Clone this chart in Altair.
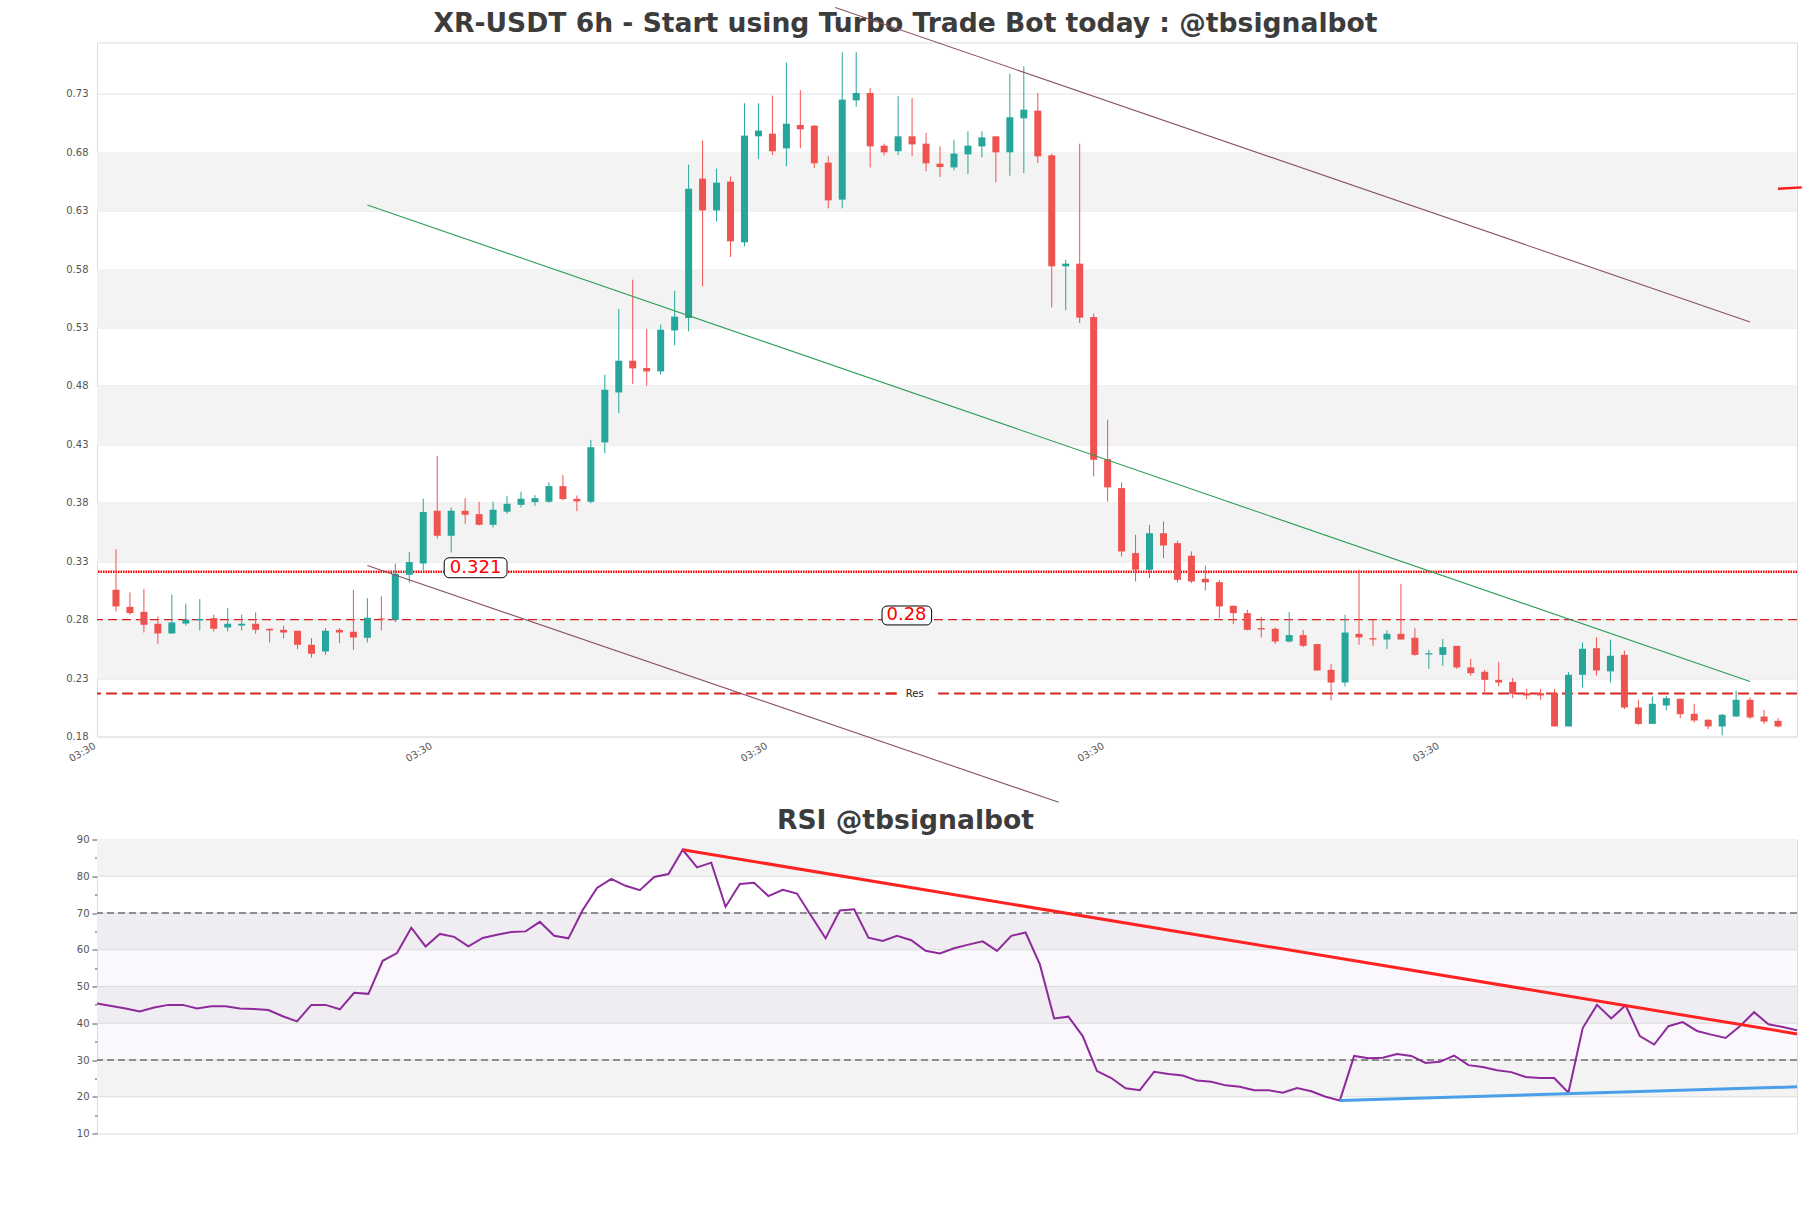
import altair as alt
import pandas as pd

# ---------------- data ----------------
opens = [0.3056, 0.2910, 0.2867, 0.2765, 0.2682, 0.2767, 0.2793, 0.2813, 0.2733, 0.2750,
         0.2765, 0.2722, 0.2713, 0.2705, 0.2585, 0.2528, 0.2713, 0.2696, 0.2645, 0.2810,
         0.2799, 0.3184, 0.3281, 0.3732, 0.3518, 0.3732, 0.3703, 0.3612, 0.3724, 0.3783,
         0.3806, 0.3809, 0.3943, 0.3834, 0.3809, 0.4317, 0.4745, 0.5016, 0.4954, 0.4925,
         0.5276, 0.5382, 0.6575, 0.6303, 0.6549, 0.6030, 0.6937, 0.6960, 0.6834, 0.7034,
         0.7028, 0.6712, 0.6395, 0.7245, 0.7308, 0.6857, 0.6809, 0.6937, 0.6874, 0.6703,
         0.6671, 0.6783, 0.6851, 0.6937, 0.6800, 0.7091, 0.7157, 0.6774, 0.5824, 0.5847,
         0.5390, 0.4174, 0.3926, 0.3370, 0.3227, 0.3540, 0.3455, 0.3347, 0.3150, 0.3121,
         0.2919, 0.2856, 0.2728, 0.2722, 0.2613, 0.2668, 0.2591, 0.2371, 0.2262, 0.2679,
         0.2642, 0.2630, 0.2679, 0.2645, 0.2502, 0.2499, 0.2576, 0.2391, 0.2354, 0.2285,
         0.2268, 0.2171, 0.2171, 0.2171, 0.1886, 0.2328, 0.2556, 0.2357, 0.2499, 0.2048,
         0.1908, 0.2065, 0.2123, 0.1994, 0.1943, 0.1886, 0.1971, 0.2114, 0.1971, 0.1934]
highs = [0.3404, 0.3033, 0.3064, 0.2827, 0.3013, 0.2936, 0.2976, 0.2842, 0.2899, 0.2842,
         0.2862, 0.2722, 0.2747, 0.2705, 0.2642, 0.2728, 0.2728, 0.3056, 0.2984, 0.2999,
         0.3280, 0.3378, 0.3835, 0.4203, 0.3760, 0.3840, 0.3809, 0.3809, 0.3860, 0.3895,
         0.3866, 0.3975, 0.4038, 0.3863, 0.4339, 0.4896, 0.5459, 0.5710, 0.5288, 0.5325,
         0.5616, 0.6694, 0.6900, 0.6660, 0.6592, 0.7220, 0.7220, 0.7285, 0.7568, 0.7331,
         0.7034, 0.6766, 0.7656, 0.7659, 0.7351, 0.6874, 0.7280, 0.7265, 0.6966, 0.6851,
         0.6908, 0.6980, 0.6980, 0.6937, 0.7473, 0.7536, 0.7308, 0.6789, 0.5881, 0.6874,
         0.5419, 0.4512, 0.3975, 0.3527, 0.3612, 0.3641, 0.3475, 0.3384, 0.3261, 0.3141,
         0.2919, 0.2884, 0.2822, 0.2733, 0.2865, 0.2713, 0.2591, 0.2419, 0.2842, 0.3227,
         0.2799, 0.2708, 0.3107, 0.2728, 0.2542, 0.2636, 0.2576, 0.2465, 0.2371, 0.2439,
         0.2302, 0.2208, 0.2208, 0.2208, 0.2351, 0.2605, 0.2650, 0.2628, 0.2536, 0.2114,
         0.2142, 0.2148, 0.2123, 0.2080, 0.1948, 0.1994, 0.2194, 0.2134, 0.2028, 0.1957]
lows = [0.2870, 0.2842, 0.2690, 0.2593, 0.2679, 0.2750, 0.2708, 0.2699, 0.2699, 0.2708,
        0.2679, 0.2605, 0.2639, 0.2548, 0.2476, 0.2499, 0.2599, 0.2542, 0.2605, 0.2708,
        0.2779, 0.3118, 0.3221, 0.3495, 0.3375, 0.3621, 0.3607, 0.3589, 0.3706, 0.3760,
        0.3775, 0.3800, 0.3820, 0.3729, 0.3795, 0.4226, 0.4568, 0.4816, 0.4802, 0.4896,
        0.5148, 0.5268, 0.5653, 0.6209, 0.5904, 0.5995, 0.6743, 0.6777, 0.6680, 0.6834,
        0.6666, 0.6320, 0.6320, 0.7189, 0.6671, 0.6774, 0.6777, 0.6766, 0.6637, 0.6589,
        0.6646, 0.6614, 0.6757, 0.6543, 0.6600, 0.6623, 0.6709, 0.5473, 0.5447, 0.5339,
        0.4026, 0.3812, 0.3341, 0.3127, 0.3156, 0.3327, 0.3120, 0.3113, 0.3050, 0.2813,
        0.2762, 0.2708, 0.2648, 0.2593, 0.2605, 0.2565, 0.2365, 0.2108, 0.2228, 0.2585,
        0.2576, 0.2548, 0.2630, 0.2491, 0.2379, 0.2405, 0.2379, 0.2322, 0.2165, 0.2228,
        0.2128, 0.2120, 0.2114, 0.1886, 0.1886, 0.2220, 0.2322, 0.2262, 0.2034, 0.1897,
        0.1908, 0.2023, 0.1957, 0.1920, 0.1863, 0.1809, 0.1971, 0.1951, 0.1906, 0.1877]
closes = [0.2913, 0.2856, 0.2756, 0.2682, 0.2776, 0.2799, 0.2807, 0.2722, 0.2765, 0.2765,
          0.2713, 0.2708, 0.2690, 0.2585, 0.2508, 0.2705, 0.2690, 0.2648, 0.2816, 0.2802,
          0.3193, 0.3293, 0.3721, 0.3518, 0.3732, 0.3698, 0.3612, 0.3741, 0.3792, 0.3835,
          0.3840, 0.3943, 0.3832, 0.3812, 0.4276, 0.4768, 0.5016, 0.4951, 0.4925, 0.5282,
          0.5394, 0.6489, 0.6303, 0.6540, 0.6038, 0.6943, 0.6986, 0.6809, 0.7045, 0.6997,
          0.6706, 0.6389, 0.7251, 0.7308, 0.6851, 0.6800, 0.6937, 0.6868, 0.6706, 0.6674,
          0.6789, 0.6857, 0.6928, 0.6800, 0.7100, 0.7165, 0.6766, 0.5824, 0.5847, 0.5385,
          0.4168, 0.3932, 0.3384, 0.3227, 0.3540, 0.3435, 0.3141, 0.3127, 0.3119, 0.2913,
          0.2856, 0.2713, 0.2716, 0.2613, 0.2668, 0.2576, 0.2365, 0.2262, 0.2690, 0.2648,
          0.2630, 0.2679, 0.2630, 0.2499, 0.2513, 0.2565, 0.2391, 0.2342, 0.2285, 0.2262,
          0.2165, 0.2151, 0.2151, 0.1886, 0.2328, 0.2551, 0.2365, 0.2491, 0.2048, 0.1908,
          0.2080, 0.2128, 0.1991, 0.1937, 0.1886, 0.1986, 0.2114, 0.1963, 0.1928, 0.1886]

rsi_values = [45.4, 44.7, 44.0, 43.2, 44.3, 45.0, 45.0, 44.0, 44.6, 44.6,
              44.0, 43.9, 43.6, 41.9, 40.5, 45.0, 45.0, 43.8, 48.3, 48.0,
              57.0, 59.1, 66.0, 60.9, 64.3, 63.5, 60.9, 63.2, 64.1, 64.8,
              65.0, 67.6, 63.8, 63.1, 70.8, 76.8, 79.3, 77.4, 76.2, 79.8,
              80.6, 87.2, 82.4, 83.7, 71.7, 77.9, 78.2, 74.6, 76.3, 75.3,
              69.2, 63.1, 70.7, 71.0, 63.3, 62.4, 63.8, 62.6, 59.7, 59.0,
              60.4, 61.4, 62.3, 59.7, 63.8, 64.7, 56.0, 41.3, 41.8, 36.5,
              27.0, 25.1, 22.3, 21.8, 26.8, 26.2, 25.8, 24.4, 24.1, 23.1,
              22.7, 21.8, 21.8, 21.1, 22.4, 21.5, 20.0, 19.0, 31.1, 30.5,
              30.6, 31.6, 31.1, 29.2, 29.5, 31.2, 28.6, 28.1, 27.2, 26.7,
              25.4, 25.1, 25.1, 21.1, 38.7, 45.0, 41.3, 44.9, 36.5, 34.2,
              39.2, 40.3, 37.9, 36.9, 36.0, 39.2, 43.0, 39.7, 39.0, 38.1]

price_ticks = [0.18, 0.23, 0.28, 0.33, 0.38, 0.43, 0.48, 0.53, 0.58, 0.63, 0.68, 0.73]
band_lo = [0.23, 0.33, 0.43, 0.53, 0.63]
band_hi = [0.28, 0.38, 0.48, 0.58, 0.68]
xtick_pos = [-1, 23.1, 47.1, 71.2, 95.2]
xtick_text = "03:30"

main_title = "XR-USDT 6h - Start using Turbo Trade Bot today : @tbsignalbot"
rsi_title = "RSI @tbsignalbot"

# price levels
level_support = 0.321
level_mid = 0.28
level_res = 0.2168

# trend lines (start index, start price, end index, end price)
trend_x1 = [18.0, 51.5, 18.0, 119.0]
trend_y1 = [0.635, 0.804, 0.3264, 0.6489]
trend_x2 = [117.0, 117.0, 67.5, 120.7]
trend_y2 = [0.227, 0.5348, 0.1237, 0.6500]
trend_col = ["#2e9e5b", "#8a5468", "#8a5468", "#ff1a1a"]
trend_w = [1.1, 1.1, 1.1, 2.5]

# annotation boxes
box_x1 = [23.5, 54.85]
box_x2 = [28.0, 58.4]
box_y1 = [0.3159, 0.2755]
box_y2 = [0.3330, 0.2917]
box_tx = [25.75, 56.6]
box_ty = [0.3245, 0.2836]
box_txt = ["0.321", "0.28"]

# RSI
rsi_band_lo = [80, 60, 40, 20]
rsi_band_hi = [90, 70, 50, 30]
rsi_grid = [20, 30, 40, 50, 60, 70, 80]
rsi_levels = [70, 30]
rsi_tr_x1 = [41, 87]
rsi_tr_y1 = [87.2, 19.0]
rsi_tr_x2 = [119, 119]
rsi_tr_y2 = [37.1, 22.7]
rsi_tr_col = ["#ff2222", "#4a9fe8"]

# ---------------- chart ----------------
W = 1700
H_MAIN = 694
H_RSI = 294
FONT = "DejaVu Sans"
TITLE_X = 808.5      # figure centre relative to plot left
TITLE_Y = -11        # baseline above plot top

n = len(opens)
candles = pd.DataFrame({"i": list(range(n)), "o": opens, "h": highs, "l": lows, "c": closes})
candles["col"] = ["#26a69a" if c >= o else "#ef5350" for o, c in zip(opens, closes)]

xs = alt.Scale(domain=[-1, 120], nice=False, zero=False)
ys = alt.Scale(domain=[0.18, 0.774], nice=False, zero=False)
x_axis = alt.Axis(values=xtick_pos, labelExpr="'" + xtick_text + "'", labelAngle=330,
                  labelAlign="right", labelBaseline="top", ticks=False, domain=False,
                  grid=False, labelPadding=4, labelOffset=-10, title=None, labelFontSize=10,
                  labelColor="#555555", labelFont=FONT, labelBound=False,
                  labelOverlap=False)
y_axis = alt.Axis(values=price_ticks, format=".2f", ticks=False, domain=False, grid=True,
                  gridColor="#e2e2e2", gridWidth=1, labelPadding=9, title=None,
                  labelFontSize=10, labelColor="#555555", labelFont=FONT)


def X(f):
    return alt.X(f, type="quantitative", scale=xs, axis=x_axis)


def Y(f):
    return alt.Y(f, type="quantitative", scale=ys, axis=y_axis)


bands = alt.Chart(pd.DataFrame({"lo": band_lo, "hi": band_hi})).mark_rect(color="#f3f3f3").encode(
    x=alt.value(0), x2=alt.value(W), y=Y("lo"), y2="hi")

wicks = alt.Chart(candles).mark_rule(strokeWidth=1).encode(
    x=X("i"), y=Y("l"), y2="h", color=alt.Color("col:N", scale=None))
bodies = alt.Chart(candles).mark_bar(size=7).encode(
    x=X("i"), y=Y("o"), y2="c", color=alt.Color("col:N", scale=None))

sup = alt.Chart(pd.DataFrame({"v": [level_support]})).mark_rule(
    color="#ff0000", strokeWidth=2.5, strokeDash=[1.5, 1]).encode(y=Y("v"))
mid = alt.Chart(pd.DataFrame({"v": [level_mid]})).mark_rule(
    color="#d42020", strokeWidth=1.3, strokeDash=[9, 5]).encode(y=Y("v"))
res = alt.Chart(pd.DataFrame({"v": [level_res]})).mark_rule(
    color="#d42a2a", strokeWidth=2.2, strokeDash=[11, 5]).encode(y=Y("v"))

trend_df = pd.DataFrame({"x1": trend_x1, "y1": trend_y1, "x2": trend_x2, "y2": trend_y2,
                         "col": trend_col, "w": trend_w})
trends = alt.Chart(trend_df).mark_rule(clip=False).encode(
    x=X("x1"), y=Y("y1"), x2="x2", y2="y2",
    color=alt.Color("col:N", scale=None),
    strokeWidth=alt.StrokeWidth("w:Q", scale=None))

box_df = pd.DataFrame({"x1": box_x1, "x2": box_x2, "y1": box_y1, "y2": box_y2,
                       "tx": box_tx, "ty": box_ty, "txt": box_txt})
boxes = alt.Chart(box_df).mark_rect(fill="white", stroke="black", strokeWidth=1,
                                    cornerRadius=5).encode(
    x=X("x1"), x2="x2", y=Y("y1"), y2="y2")
box_text = alt.Chart(box_df).mark_text(color="#ff0000", fontSize=18, font=FONT,
                                       align="center", baseline="middle").encode(
    x=X("tx"), y=Y("ty"), text="txt:N")

leg_df = pd.DataFrame({"x1": [54.7], "x2": [58.6], "y1": [level_res - 0.006],
                       "y2": [level_res + 0.006], "lx1": [55.1], "lx2": [55.9],
                       "ly": [level_res], "tx": [56.55], "txt": ["Res"]})
leg_bg = alt.Chart(leg_df).mark_rect(fill="white").encode(
    x=X("x1"), x2="x2", y=Y("y1"), y2="y2")
leg_line = alt.Chart(leg_df).mark_rule(color="#d42a2a", strokeWidth=2.5).encode(
    x=X("lx1"), x2="lx2", y=Y("ly"))
leg_txt = alt.Chart(leg_df).mark_text(fontSize=10, font=FONT, color="#222222",
                                      align="left", baseline="middle").encode(
    x=X("tx"), y=Y("ly"), text="txt:N")

main_t = alt.Chart(pd.DataFrame({"t": [main_title]})).mark_text(
    fontSize=26.6, fontWeight="bold", color="#3c3c3c", font=FONT,
    align="center", baseline="alphabetic").encode(
    x=alt.value(TITLE_X), y=alt.value(TITLE_Y), text="t:N")

main = alt.layer(bands, sup, mid, res, wicks, bodies, main_t, trends, boxes, box_text,
                 leg_bg, leg_line, leg_txt).properties(width=W, height=H_MAIN)

# RSI panel
rx = alt.Scale(domain=[0, 119], nice=False, zero=False)
ry = alt.Scale(domain=[10, 90], nice=False, zero=False)
r_axis = alt.Axis(values=list(range(10, 91, 5)),
                  labelExpr="datum.value % 10 === 0 ? datum.label : ''",
                  tickSize={"condition": {"test": "datum.value % 10 === 0", "value": 5},
                            "value": 2.5},
                  ticks=True, tickColor="#555555", domain=False, grid=False, labelPadding=3,
                  title=None, labelFontSize=10, labelColor="#555555", labelFont=FONT,
                  labelOverlap=False)


def RX(f):
    return alt.X(f, type="quantitative", scale=rx, axis=None)


def RY(f):
    return alt.Y(f, type="quantitative", scale=ry, axis=r_axis)


rsi_df = pd.DataFrame({"i": list(range(len(rsi_values))), "r": rsi_values})
r_bands = alt.Chart(pd.DataFrame({"lo": rsi_band_lo, "hi": rsi_band_hi})).mark_rect(
    color="#f3f3f3").encode(x=alt.value(0), x2=alt.value(W), y=RY("lo"), y2="hi")
r_hatch = alt.Chart(pd.DataFrame({"lo": [30], "hi": [70]})).mark_rect(
    color="#b9a3d6", opacity=0.08).encode(x=alt.value(0), x2=alt.value(W), y=RY("lo"), y2="hi")
r_grid = alt.Chart(pd.DataFrame({"v": rsi_grid})).mark_rule(
    color="#dcdcdc", strokeWidth=1).encode(y=RY("v"))
r_lvls = alt.Chart(pd.DataFrame({"v": rsi_levels})).mark_rule(
    color="#333333", strokeWidth=1.2, strokeDash=[7, 4]).encode(y=RY("v"))
r_line = alt.Chart(rsi_df).mark_line(color="#8e2a9c", strokeWidth=2).encode(
    x=RX("i"), y=RY("r"))
r_tr = alt.Chart(pd.DataFrame({"x1": rsi_tr_x1, "y1": rsi_tr_y1, "x2": rsi_tr_x2,
                               "y2": rsi_tr_y2, "col": rsi_tr_col})).mark_rule(
    strokeWidth=3).encode(x=RX("x1"), y=RY("y1"), x2="x2", y2="y2",
                          color=alt.Color("col:N", scale=None))
rsi_t = alt.Chart(pd.DataFrame({"t": [rsi_title]})).mark_text(
    fontSize=26.6, fontWeight="bold", color="#3c3c3c", font=FONT,
    align="center", baseline="alphabetic").encode(
    x=alt.value(TITLE_X), y=alt.value(TITLE_Y), text="t:N")

rsi = alt.layer(r_bands, r_hatch, r_grid, r_lvls, r_line, r_tr, rsi_t).properties(
    width=W, height=H_RSI)

chart = alt.vconcat(main, rsi, spacing=103, bounds="flush").configure_view(
    stroke="#d6d6d6", strokeWidth=1).configure(
    font=FONT, background="white",
    padding={"left": 65, "top": 5.5, "right": 4, "bottom": 4})

chart.save("out.html", embed_options={"renderer": "svg", "actions": False})
